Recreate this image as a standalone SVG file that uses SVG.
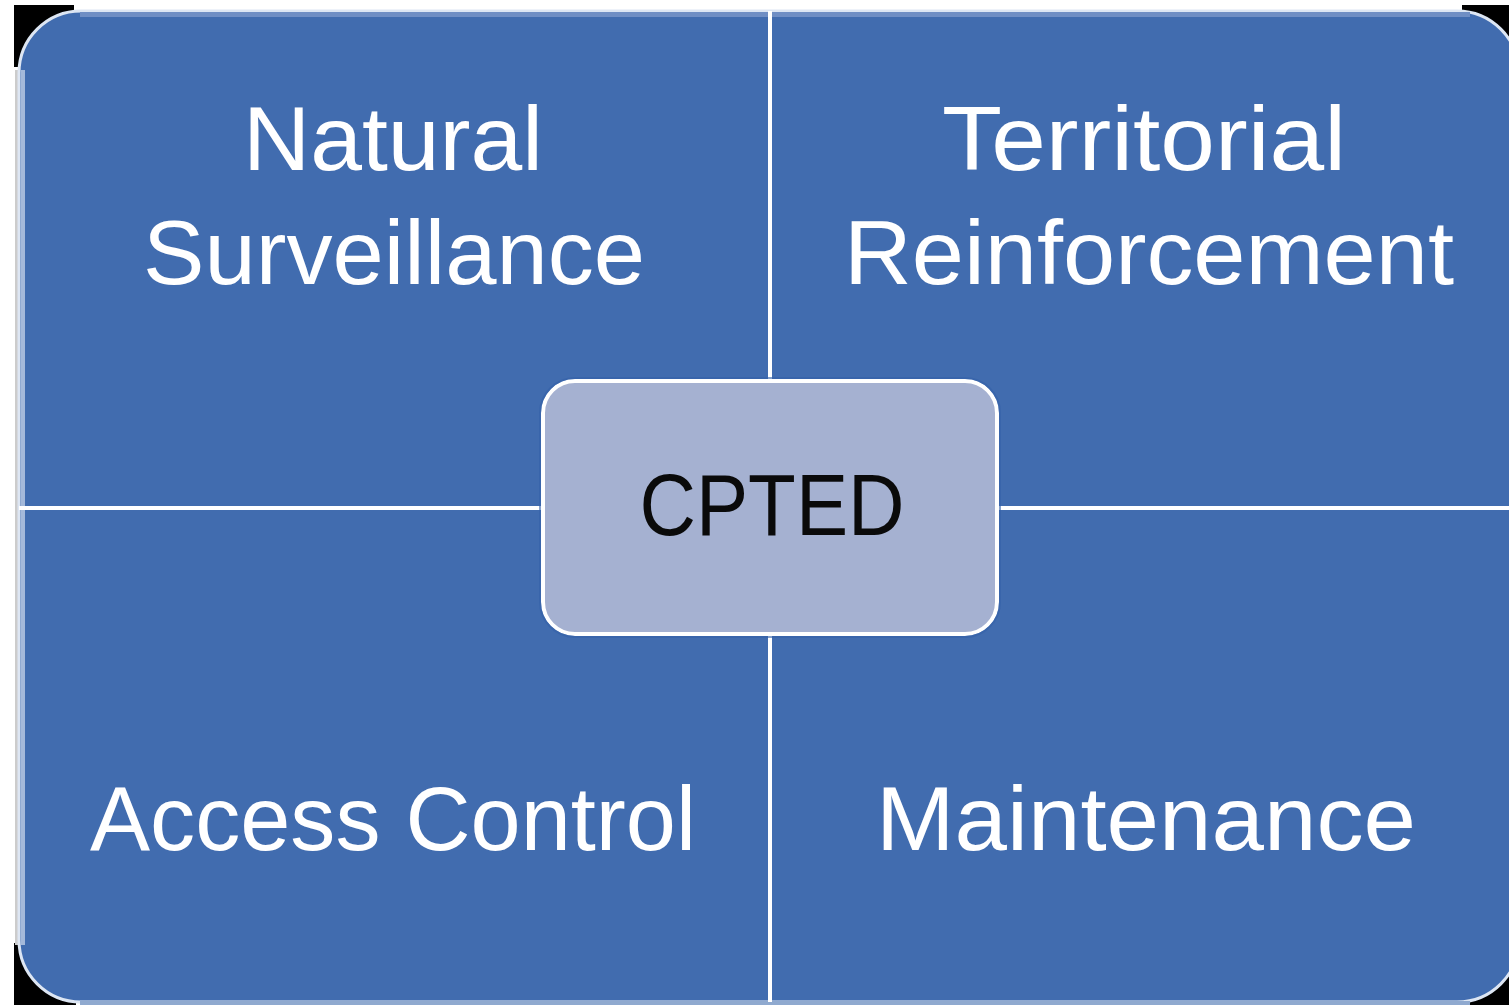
<svg xmlns="http://www.w3.org/2000/svg" width="1509" height="1005" viewBox="0 0 1509 1005">
  <style>
    .lbl { font-family: "Liberation Sans", Arial, sans-serif; font-size: 91px; fill: #FFFFFF; text-anchor: middle; }
    .ctr { font-family: "Liberation Sans", Arial, sans-serif; font-size: 87px; fill: #0A0A0A; text-anchor: middle; }
    .div { stroke: #FFFFFF; stroke-width: 4; fill: none; }
  </style>
  <rect x="0" y="0" width="1509" height="1005" fill="#FFFFFF"/>
  <g id="corners" fill="#000000">
    <rect x="14" y="5" width="60" height="62"/>
    <rect x="1462" y="5" width="47" height="62"/>
    <rect x="14" y="943" width="62" height="62"/>
    <rect x="1462" y="943" width="47" height="62"/>
  </g>
  <rect x="15" y="70" width="4" height="875" fill="#CCCCCC"/>
  <g id="background">
    <rect x="19" y="11" width="1500" height="991" rx="62" ry="62" fill="#416CAF" stroke="#DDE6F3" stroke-width="3"/>
    <rect x="21" y="70" width="4" height="875" fill="#A4B9DA"/>
    <rect x="80" y="12" width="1390" height="5" fill="#6F8EC4"/>
    <rect x="80" y="1001" width="1390" height="4" fill="#8FA9CF"/>
  </g>
  <g id="connectors">
    <line class="div" x1="770" y1="11" x2="770" y2="1002"/>
    <line class="div" x1="19" y1="508" x2="1509" y2="508"/>
  </g>
  <g id="natural-surveillance">
    <text class="lbl" x="393" y="170" textLength="300" lengthAdjust="spacingAndGlyphs">Natural</text>
    <text class="lbl" x="394" y="284" textLength="502" lengthAdjust="spacingAndGlyphs">Surveillance</text>
  </g>
  <g id="territorial-reinforcement">
    <text class="lbl" x="1144" y="170" textLength="404" lengthAdjust="spacingAndGlyphs">Territorial</text>
    <text class="lbl" x="1149" y="284" textLength="610" lengthAdjust="spacingAndGlyphs">Reinforcement</text>
  </g>
  <g id="access-control">
    <text class="lbl" x="393" y="850" textLength="606" lengthAdjust="spacingAndGlyphs">Access Control</text>
  </g>
  <g id="maintenance">
    <text class="lbl" x="1146" y="850" textLength="540" lengthAdjust="spacingAndGlyphs">Maintenance</text>
  </g>
  <g id="cpted">
    <rect x="543" y="381" width="454" height="253" rx="32" ry="32" fill="#A5B1D1" stroke="#FFFFFF" stroke-width="4"/>
    <rect x="540" y="378" width="460" height="259" rx="35" ry="35" fill="none" stroke="#3361A8" stroke-width="2" opacity="0.6"/>
    <text class="ctr" x="772" y="535" textLength="265" lengthAdjust="spacingAndGlyphs">CPTED</text>
  </g>
</svg>
